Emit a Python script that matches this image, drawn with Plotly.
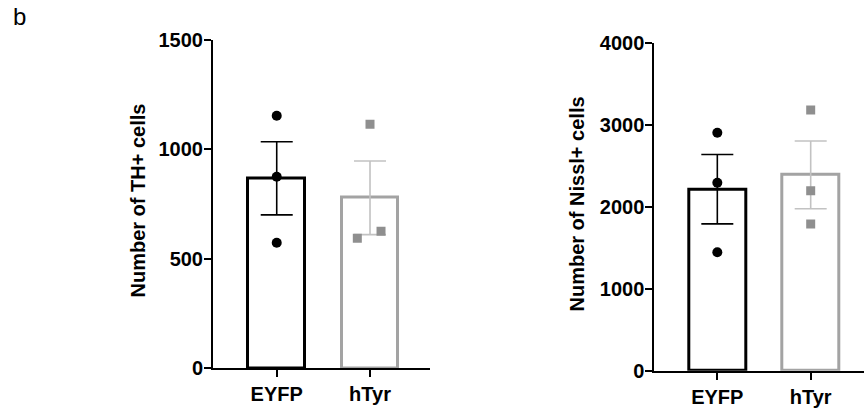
import plotly.graph_objects as go

W, H = 864, 413

categories = ["EYFP", "hTyr"]

# Panel 1: TH+ cells
th_means = [866, 777]
th_sem = [167, 168]
th_eyfp_points = [1152, 873, 572]
th_htyr_points = [1113, 592, 625]
th_htyr_jitter = [0.0, -0.136, 0.118]
th_eyfp_jitter = [0.0, 0.0, 0.0]
th_yticks = [0, 500, 1000, 1500]

# Panel 2: Nissl+ cells
ni_means = [2213, 2388]
ni_sem = [423, 413]
ni_eyfp_points = [2902, 2293, 1444]
ni_htyr_points = [3180, 2195, 1789]
ni_eyfp_jitter = [0.0, 0.0, 0.0]
ni_htyr_jitter = [0.0, 0.0, 0.0]
ni_yticks = [0, 1000, 2000, 3000, 4000]

BLACK = "#000000"
GREY_BAR = "#a3a3a3"
GREY_ERR = "#c2c2c2"
GREY_PT = "#8f8f8f"
FONT = "Arial, Liberation Sans, sans-serif"

fig = go.Figure()


def add_panel(xa, ya, means, sem, pts_a, jit_a, pts_b, jit_b):
    colors_line = [BLACK, GREY_BAR]
    colors_err = [BLACK, GREY_ERR]
    for i in range(2):
        fig.add_trace(go.Bar(
            x=[i], y=[means[i]], width=0.61,
            marker=dict(color="white", line=dict(color=colors_line[i], width=3)),
            error_y=dict(type="data", array=[sem[i]], color=colors_err[i],
                         thickness=1.6, width=16, visible=True),
            xaxis=xa, yaxis=ya, showlegend=False, hoverinfo="skip"))
    fig.add_trace(go.Scatter(
        x=[0 + j for j in jit_a], y=pts_a, mode="markers",
        marker=dict(symbol="circle", size=10, color=BLACK),
        xaxis=xa, yaxis=ya, showlegend=False))
    fig.add_trace(go.Scatter(
        x=[1 + j for j in jit_b], y=pts_b, mode="markers",
        marker=dict(symbol="square", size=9, color=GREY_PT),
        xaxis=xa, yaxis=ya, showlegend=False))


add_panel("x", "y", th_means, th_sem, th_eyfp_points, th_eyfp_jitter,
          th_htyr_points, th_htyr_jitter)
add_panel("x2", "y2", ni_means, ni_sem, ni_eyfp_points, ni_eyfp_jitter,
          ni_htyr_points, ni_htyr_jitter)

axis_common = dict(showline=True, linecolor=BLACK, linewidth=2, ticks="outside",
                   ticklen=7, tickwidth=2, tickcolor=BLACK, showgrid=False,
                   zeroline=False, mirror=False, automargin=False)

xfont = dict(family=FONT, size=20, color=BLACK, weight="bold")
yfont = dict(family=FONT, size=20, color=BLACK, weight="bold")

fig.update_layout(
    width=W, height=H,
    margin=dict(l=0, r=0, t=0, b=0),
    paper_bgcolor="white", plot_bgcolor="white",
    bargap=0,
    xaxis=dict(domain=[213 / W, 430 / W], range=[-0.683, 1.643],
               tickvals=[0, 1], ticktext=categories, tickfont=xfont,
               anchor="y", **axis_common),
    yaxis=dict(domain=[(H - 368) / H, (H - 39.5) / H], range=[0, 1500],
               tickvals=th_yticks, tickfont=yfont, anchor="x",
               ticklabelstandoff=-3, **axis_common),
    xaxis2=dict(domain=[654.3 / W, 1.0], range=[-0.675, 1.571],
                tickvals=[0, 1], ticktext=categories, tickfont=xfont,
                anchor="y2", **axis_common),
    yaxis2=dict(domain=[(H - 370.7) / H, (H - 42.7) / H], range=[0, 4000],
                tickvals=ni_yticks, tickfont=yfont, anchor="x2",
                ticklabelstandoff=-3, **axis_common),
)

title_font = dict(family=FONT, size=20, color=BLACK, weight="bold")
fig.add_annotation(text="Number of TH+ cells", xref="paper", yref="paper",
                   x=137.5 / W, y=(H - 201) / H, textangle=-90, showarrow=False,
                   xanchor="center", yanchor="middle", font=title_font)
fig.add_annotation(text="Number of Nissl+ cells", xref="paper", yref="paper",
                   x=576.5 / W, y=(H - 204) / H, textangle=-90, showarrow=False,
                   xanchor="center", yanchor="middle", font=title_font)
fig.add_annotation(text="b", xref="paper", yref="paper",
                   x=11 / W, y=(H - 1) / H, showarrow=False,
                   xanchor="left", yanchor="top",
                   font=dict(family=FONT, size=24, color=BLACK))

fig.write_html("out.html", config={"displayModeBar": False},
               post_script="document.body.style.margin='0px';"
                           "document.body.style.overflow='hidden';")
